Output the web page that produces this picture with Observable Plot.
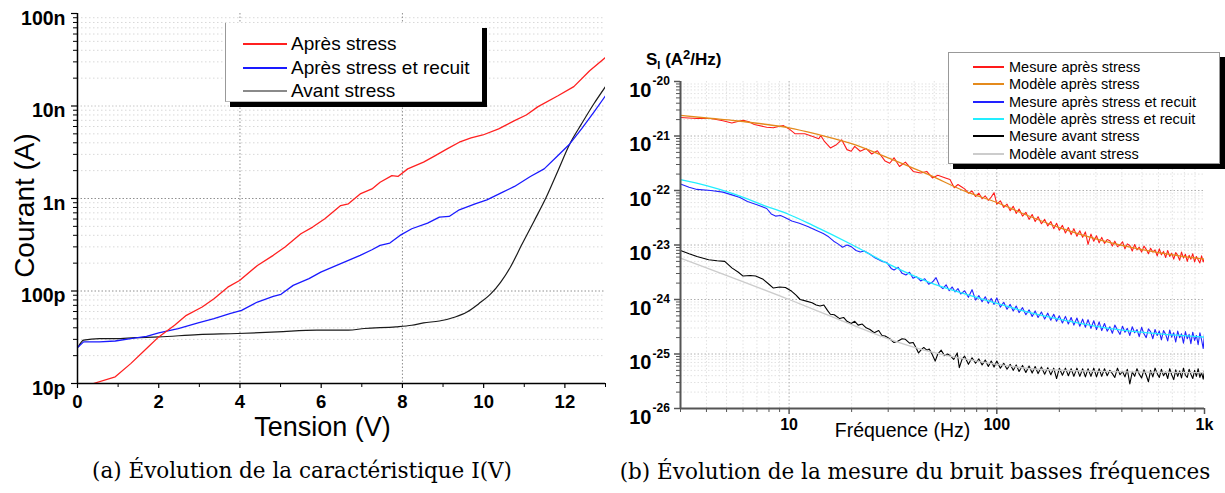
<!DOCTYPE html>
<html><head><meta charset="utf-8">
<script src="https://cdn.jsdelivr.net/npm/d3@7"></script>
<script src="https://cdn.jsdelivr.net/npm/@observablehq/plot@0.6"></script>
<style>
body{margin:0;background:#fff;width:1225px;height:493px;position:relative;overflow:hidden;font-family:"Liberation Sans",Arial,sans-serif;}
#left,#right{position:absolute;top:0;}
#left{left:0}
#right{left:610px}
.legend{position:absolute;background:#fff;box-shadow:5px 5px 0 #000;z-index:5;}
.row{position:absolute;left:0;right:0;height:20px;}
.row .sw{position:absolute;top:9px;height:2px;}
.row .lb{position:absolute;top:50%;transform:translateY(-50%);white-space:nowrap;color:#000;}
.cap{position:absolute;font-family:"DejaVu Serif","Liberation Serif",serif;font-size:21.5px;white-space:nowrap;transform:translate(-50%,-50%);color:#000;}
#slabel{position:absolute;left:646px;top:47px;font-weight:bold;font-size:17px;white-space:nowrap;z-index:4;}
#slabel sub{font-size:11px;vertical-align:-4px;}
#slabel sup{font-size:13px;vertical-align:6px;}
</style></head>
<body>
<div id="left"></div>
<div id="right"></div>
<div id="slabel">S<sub>I</sub> (A<sup>2</sup>/Hz)</div>
<div id="legL" class="legend" style="left:225px;top:23px;width:256px;height:78px;border-left:1px solid #999;border-bottom:1px solid #bbb;"></div>
<div id="legR" class="legend" style="left:948px;top:52px;width:270px;height:110px;border:1px solid #999;"></div>
<div class="cap" style="left:302px;top:470px;">(a) Évolution de la caractéristique I(V)</div>
<div class="cap" style="left:915px;top:471px;">(b) Évolution de la mesure du bruit basses fréquences</div>
<script>
// ---------- Panel (a): I(V) ----------
const ivNames = ["Après stress", "Après stress et recuit", "Avant stress"];
const voltTicks = [0, 2, 4, 6, 8, 10, 12];
const voltMinor = [1, 3, 5, 7, 9, 11, 13];
const currentTicks = [1e-11, 1e-10, 1e-9, 1e-8, 1e-7];
const currentTickLabels = ["10p", "100p", "1n", "10n", "100n"];

// [tension (V), courant (A)]
const apresStress = [[0.25,9.2e-12],[0.39,1.0e-11],[0.93,1.18e-11],[1.31,1.64e-11],[1.70,2.39e-11],[2.0,3.19e-11],[2.39,4.27e-11],[2.68,5.46e-11],[3.07,6.71e-11],[3.36,8.26e-11],[3.70,1.10e-10],[3.99,1.30e-10],[4.43,1.89e-10],[4.82,2.43e-10],[5.11,2.99e-10],[5.50,4.16e-10],[5.79,4.91e-10],[6.09,6.04e-10],[6.48,8.39e-10],[6.67,8.75e-10],[6.96,1.12e-9],[7.25,1.27e-9],[7.45,1.50e-9],[7.74,1.77e-9],[7.89,1.73e-9],[8.13,2.09e-9],[8.52,2.47e-9],[8.81,2.91e-9],[9.10,3.44e-9],[9.40,4.06e-9],[9.69,4.52e-9],[9.98,4.86e-9],[10.37,5.65e-9],[10.76,6.95e-9],[11.05,8.00e-9],[11.34,9.84e-9],[11.83,1.29e-8],[12.22,1.62e-8],[12.61,2.40e-8],[13.0,3.35e-8]];
const apresRecuit = [[0.02,2.49e-11],[0.15,2.82e-11],[0.54,2.82e-11],[0.93,2.88e-11],[1.31,3.06e-11],[1.70,3.24e-11],[2.0,3.52e-11],[2.48,3.93e-11],[2.97,4.52e-11],[3.36,5.02e-11],[3.75,5.69e-11],[4.04,6.18e-11],[4.43,7.60e-11],[4.82,8.75e-11],[5.01,9.20e-11],[5.31,1.15e-10],[5.70,1.36e-10],[5.99,1.60e-10],[6.38,1.89e-10],[6.67,2.14e-10],[6.96,2.43e-10],[7.25,2.79e-10],[7.45,3.11e-10],[7.69,3.30e-10],[7.94,3.99e-10],[8.23,4.71e-10],[8.62,5.42e-10],[8.91,6.30e-10],[9.15,6.40e-10],[9.40,7.55e-10],[9.79,8.75e-10],[10.08,9.68e-10],[10.47,1.17e-9],[10.76,1.35e-9],[11.15,1.73e-9],[11.49,2.09e-9],[11.83,2.91e-9],[12.12,3.89e-9],[12.41,5.65e-9],[12.71,8.55e-9],[13.0,1.29e-8]];
const avantStress = [[0.02,2.49e-11],[0.15,2.94e-11],[0.54,3.06e-11],[0.93,3.06e-11],[1.41,3.13e-11],[2.0,3.19e-11],[2.97,3.38e-11],[3.94,3.47e-11],[4.92,3.61e-11],[5.89,3.77e-11],[6.67,3.77e-11],[7.06,3.93e-11],[7.84,4.09e-11],[8.23,4.26e-11],[8.52,4.52e-11],[8.91,4.74e-11],[9.30,5.24e-11],[9.59,5.93e-11],[9.88,7.29e-11],[10.18,9.35e-11],[10.42,1.25e-10],[10.66,1.82e-10],[10.95,3.24e-10],[11.25,5.79e-10],[11.54,1.03e-9],[11.83,2.00e-9],[12.12,3.89e-9],[12.41,6.40e-9],[12.71,1.05e-8],[13.0,1.62e-8]];

// ---------- Panel (b): bruit basses fréquences (exposants log10 de S_I) ----------
const noiseNames = ["Mesure après stress","Modèle après stress","Mesure après stress et recuit","Modèle après stress et recuit","Mesure avant stress","Modèle avant stress"];
const freqTicks = [10, 100, 1000];
const freqTickLabels = ["10", "100", "1k"];
const freqMinor = [3,4,5,6,7,8,9,20,30,40,50,60,70,80,90,200,300,400,500,600,700,800,900];
const sExponents = [-26, -25, -24, -23, -22, -21, -20];

const redLo = [[3,-20.66],[3.6,-20.68],[4.2,-20.68],[4.8,-20.72],[5.3,-20.76],[5.6,-20.74],[6.0,-20.71],[6.4,-20.74],[6.8,-20.79],[7.8,-20.84],[8.4,-20.85],[9.0,-20.82],[9.4,-20.81],[10,-20.87],[10.7,-20.96],[11.9,-20.96],[13.0,-21.01],[13.9,-21.05],[14.2,-20.99],[14.8,-21.10],[15.8,-21.22],[16.9,-21.16],[17.9,-21.07],[19.0,-21.25],[19.9,-21.28],[20.7,-21.19],[22,-21.28],[23.5,-21.23],[25,-21.33],[26.6,-21.27],[29,-21.46],[30.5,-21.50],[32,-21.40],[34,-21.56],[36.3,-21.48],[39.6,-21.65],[43,-21.68],[46,-21.65],[49,-21.77],[52,-21.72],[56.6,-21.77],[59.5,-21.80],[62.4,-21.95],[65,-21.89],[67.5,-21.93]];
const blueLo = [[3,-21.88],[3.3,-21.94],[3.6,-21.98],[4.2,-22.00],[4.8,-22.03],[5.3,-22.08],[5.8,-22.13],[6.3,-22.20],[7.0,-22.26],[7.8,-22.33],[8.2,-22.43],[8.6,-22.47],[9.1,-22.46],[9.6,-22.50],[10.3,-22.56],[11.2,-22.60],[12.3,-22.66],[13.3,-22.72],[14.6,-22.79],[15.5,-22.85],[16.4,-22.93],[17.2,-22.98],[18.1,-23.04],[19.0,-23.00],[19.9,-23.03],[21,-23.10],[22,-23.13],[23,-23.11],[24.5,-23.17],[26,-23.24],[28,-23.30],[29.5,-23.32],[31,-23.43],[32,-23.46],[33.5,-23.41],[35,-23.52],[36.5,-23.55],[38,-23.50],[39.5,-23.61],[41,-23.58],[43,-23.66],[45,-23.62],[47,-23.72],[49,-23.68],[51,-23.60],[53,-23.75],[55,-23.80],[57,-23.73],[59,-23.84],[61,-23.77],[63,-23.86],[65,-23.80],[67,-23.90]];
const blackLo = [[3,-23.10],[3.3,-23.16],[3.6,-23.21],[4.1,-23.27],[4.5,-23.29],[4.9,-23.30],[5.3,-23.42],[5.7,-23.50],[6.0,-23.57],[6.5,-23.56],[6.9,-23.57],[7.5,-23.63],[8.0,-23.72],[8.4,-23.79],[9.0,-23.77],[9.6,-23.78],[10.3,-23.85],[10.8,-23.92],[11.3,-24.00],[12.1,-24.03],[12.9,-24.06],[13.5,-24.10],[14.1,-24.12],[14.7,-24.10],[15.3,-24.20],[15.8,-24.27],[16.5,-24.28],[17.5,-24.35],[18.3,-24.33],[19.0,-24.40],[19.9,-24.44],[20.7,-24.40],[21.5,-24.47],[22.5,-24.45],[23.5,-24.52],[24.5,-24.55],[25.7,-24.61],[27,-24.57],[28,-24.66],[29,-24.67],[30.5,-24.72],[32,-24.79],[33.5,-24.76],[35,-24.72],[36.3,-24.73],[38,-24.80],[39.6,-24.79],[41,-24.90],[42,-24.98],[43.3,-24.92],[44.5,-24.88],[46,-24.93],[47.3,-24.91],[49,-25.02],[50.5,-25.13],[52,-25.00],[54,-24.93],[56,-25.03],[58,-25.00],[60,-25.04],[62,-25.10],[64.5,-24.98],[66,-25.25],[68,-25.10]];

const freqHi = [70,73,76,79,82,85,88,91,94,97,100,104,108,112,116,120,124,128,133,138,143,148,153,158,164,170,176,182,188,194,200,207,214,221,228,235,243,251,259,267,275,284,293,302,311,320,330,340,350,360,370,381,392,403,414,425,437,449,461,473,485,498,511,524,537,550,564,578,592,606,620,635,650,665,680,695,711,727,743,759,775,792,809,826,843,860,878,896,914,932,950,968,986,1000];
const redHi = [-21.97,-22.05,-22.01,-22.11,-22.05,-22.15,-22.10,-22.18,-22.12,-22.04,-22.25,-22.19,-22.31,-22.25,-22.37,-22.29,-22.42,-22.34,-22.47,-22.40,-22.53,-22.44,-22.57,-22.48,-22.61,-22.53,-22.65,-22.57,-22.70,-22.60,-22.73,-22.64,-22.78,-22.68,-22.81,-22.70,-22.84,-22.74,-22.86,-22.76,-22.99,-22.80,-22.93,-22.83,-22.96,-22.86,
  -22.97,-22.90,-22.92,-23.02,-22.93,-23.03,-23.00,-22.94,-23.07,-22.98,-23.01,-23.11,-22.99,-23.09,-23.04,-23.13,-23.02,-23.08,-23.16,-23.06,-23.13,-23.09,-23.20,-23.07,-23.18,-23.12,-23.23,-23.10,-23.21,-23.15,-23.26,-23.14,-23.19,-23.28,-23.13,-23.24,-23.17,-23.30,-23.19,-23.26,-23.16,-23.31,-23.21,-23.27,-23.33,-23.20,-23.31,-23.24];
const blueHi = [-23.84,-23.96,-23.82,-24.01,-23.93,-24.04,-23.95,-24.07,-23.98,-24.09,-23.97,-24.14,-24.05,-24.18,-24.09,-24.21,-24.12,-24.24,-24.15,-24.28,-24.19,-24.31,-24.21,-24.33,-24.23,-24.36,-24.25,-24.38,-24.27,-24.40,-24.30,-24.43,-24.31,-24.45,-24.33,-24.47,-24.34,-24.49,-24.36,-24.51,-24.37,-24.53,-24.39,-24.55,-24.41,-24.57,
  -24.44,-24.58,-24.50,-24.62,-24.47,-24.56,-24.64,-24.49,-24.60,-24.53,-24.66,-24.50,-24.61,-24.55,-24.68,-24.51,-24.63,-24.70,-24.54,-24.59,-24.72,-24.55,-24.66,-24.58,-24.74,-24.57,-24.64,-24.76,-24.56,-24.69,-24.61,-24.78,-24.58,-24.70,-24.63,-24.80,-24.59,-24.72,-24.64,-24.81,-24.60,-24.75,-24.66,-24.83,-24.61,-24.74,-24.90,-24.63];
const blackHi = [-25.04,-25.19,-25.07,-25.17,-25.09,-25.20,-25.11,-25.23,-25.13,-25.24,-25.13,-25.26,-25.17,-25.28,-25.19,-25.30,-25.20,-25.32,-25.21,-25.34,-25.22,-25.35,-25.23,-25.36,-25.24,-25.37,-25.25,-25.38,-25.26,-25.45,-25.26,-25.39,-25.26,-25.40,-25.27,-25.41,-25.26,-25.41,-25.27,-25.42,-25.27,-25.41,-25.26,-25.42,-25.27,-25.41,
  -25.27,-25.40,-25.30,-25.36,-25.43,-25.26,-25.38,-25.32,-25.42,-25.28,-25.55,-25.33,-25.41,-25.27,-25.37,-25.44,-25.29,-25.39,-25.51,-25.30,-25.42,-25.26,-25.36,-25.43,-25.28,-25.40,-25.33,-25.45,-25.27,-25.38,-25.47,-25.29,-25.41,-25.31,-25.44,-25.26,-25.39,-25.43,-25.28,-25.37,-25.45,-25.30,-25.41,-25.27,-25.43,-25.34,-25.46,-25.29];

const modelRed = [[3,-20.62],[4,-20.67],[5.5,-20.72],[7.5,-20.78],[10,-20.85],[14,-20.98],[20,-21.14],[30,-21.40],[47,-21.71],[72,-22.03],[100,-22.22],[137,-22.44],[210,-22.71],[322,-22.92],[494,-23.08],[757,-23.20],[1000,-23.26]];
const modelBlue = [[3,-21.80],[4,-21.91],[5.5,-22.07],[7.76,-22.29],[10,-22.44],[13,-22.64],[20,-22.99],[30.5,-23.36],[47,-23.68],[72,-23.91],[100,-24.07],[137,-24.22],[210,-24.38],[322,-24.51],[494,-24.60],[757,-24.66],[1000,-24.69]];
const modelBlack = [[3,-23.24],[10,-24.00],[20,-24.46],[30.5,-24.73],[47,-24.95],[72,-25.10],[100,-25.19],[157,-25.28],[322,-25.32],[1000,-25.34]];

const ivColors = ["#ff2020", "#1a1aff", "#1a1a1a"];
const ivLegendColors = ["#ff2020", "#1a1aff", "#8a8a8a"];
const noiseColors = ["#ff1a1a", "#e48a1c", "#2222ff", "#22eeff", "#000000", "#cccccc"];

// ---------- helpers ----------
const withHi = (lo, hi) => lo.concat(freqHi.map((f, k) => [f, hi[k]])).filter(d => Number.isFinite(d[1]));
const toS = arr => arr.map(([f, e]) => ({f, s: Math.pow(10, e)}));
const minorLog = (e0, e1) => d3.range(e0, e1).flatMap(e => d3.range(2, 10).map(m => m * Math.pow(10, e)));

const FONT = '"Liberation Sans", Arial, sans-serif';

// ---------- left plot ----------
const leftMinorY = minorLog(-11, -7);
const left = Plot.plot({
  width: 610, height: 440,
  marginLeft: 77, marginRight: 5, marginTop: 13, marginBottom: 57,
  style: {fontFamily: FONT, background: "transparent", overflow: "visible", color: "#000"},
  x: {type: "linear", domain: [0, 13], label: null},
  y: {type: "log", domain: [1e-11, 1e-7], label: null},
  marks: [
    Plot.ruleY(leftMinorY, {stroke: "#d8d8d8", strokeDasharray: "1.5,2.5", strokeWidth: 1}),
    Plot.ruleY([1e-10, 1e-9], {stroke: "#909090", strokeDasharray: "1.5,2", strokeWidth: 1}),
    Plot.ruleY([1e-8], {stroke: "#c8c8c8", strokeDasharray: "1.5,2", strokeWidth: 1}),
    Plot.ruleX([4, 8], {stroke: "#909090", strokeDasharray: "1.5,2", strokeWidth: 1}),
    Plot.line(avantStress, {x: d => d[0], y: d => d[1], stroke: ivColors[2], strokeWidth: 1.2, curve: "monotone-x", clip: true}),
    Plot.line(apresRecuit, {x: d => d[0], y: d => d[1], stroke: ivColors[1], strokeWidth: 1.3, clip: true}),
    Plot.line(apresStress, {x: d => d[0], y: d => d[1], stroke: ivColors[0], strokeWidth: 1.3, clip: true}),
    Plot.axisX({ticks: voltTicks, tickSize: 5, tickFormat: () => "", label: null, stroke: "#000", strokeWidth: 1.2}),
    Plot.axisX({ticks: voltMinor, tickSize: 4, tickFormat: () => "", label: null, stroke: "#000"}),
    Plot.axisY({ticks: currentTicks, tickSize: 6, tickFormat: () => "", label: null, stroke: "#000", strokeWidth: 1.2}),
    Plot.axisY({ticks: leftMinorY, tickSize: 4, tickFormat: () => "", label: null, stroke: "#000"}),
    Plot.ruleY([1e-11], {stroke: "#000", strokeWidth: 1.5}),
    Plot.ruleX([0], {stroke: "#000", strokeWidth: 1.5}),
    Plot.text(voltTicks, {x: d => d, text: d => String(d), frameAnchor: "bottom", lineAnchor: "middle", dy: 19, fontSize: 18.5, fontWeight: "bold", fill: "#000"}),
    Plot.text(currentTicks, {y: d => d, text: (d, i) => currentTickLabels[i], frameAnchor: "left", textAnchor: "end", dx: -12, dy: 5, fontSize: 19.5, fontWeight: "bold", fill: "#000"}),
    Plot.text(["Tension (V)"], {frameAnchor: "bottom", textAnchor: "middle", lineAnchor: "middle", dx: -19, dy: 44, fontSize: 27, fill: "#000"}),
    Plot.text(["Courant (A)"], {frameAnchor: "left", textAnchor: "middle", rotate: -90, lineAnchor: "middle", dx: -52, dy: 7, fontSize: 28, fill: "#000"})
  ]
});
document.getElementById("left").appendChild(left);

// ---------- right plot ----------
const rightMinorY = minorLog(-26, -20);
const measRed = toS(withHi(redLo, redHi));
const measBlue = toS(withHi(blueLo, blueHi));
const measBlack = toS(withHi(blackLo, blackHi));
const right = Plot.plot({
  width: 615, height: 440,
  marginLeft: 70, marginRight: 21, marginTop: 81, marginBottom: 32,
  style: {fontFamily: FONT, background: "transparent", overflow: "visible", color: "#000"},
  x: {type: "log", domain: [3, 1000], label: null},
  y: {type: "log", domain: [1e-26, 1e-20], label: null},
  marks: [
    Plot.ruleY(rightMinorY, {stroke: "#e2e2e2", strokeDasharray: "1.5,2", strokeWidth: 1}),
    Plot.ruleX(freqMinor.filter(f => f > 3), {stroke: "#e2e2e2", strokeDasharray: "1.5,2", strokeWidth: 1}),
    Plot.ruleY(sExponents.slice(1, -1).map(e => Math.pow(10, e)), {stroke: "#b0b0b0", strokeDasharray: "1.5,2", strokeWidth: 1}),
    Plot.ruleX([10, 100], {stroke: "#b0b0b0", strokeDasharray: "1.5,2", strokeWidth: 1}),
    Plot.line(measRed, {x: "f", y: "s", stroke: noiseColors[0], strokeWidth: 1.1, clip: true}),
    Plot.line(toS(modelRed), {x: "f", y: "s", stroke: noiseColors[1], strokeWidth: 1.3, curve: "monotone-x", clip: true}),
    Plot.line(measBlue, {x: "f", y: "s", stroke: noiseColors[2], strokeWidth: 1.1, clip: true}),
    Plot.line(toS(modelBlue), {x: "f", y: "s", stroke: noiseColors[3], strokeWidth: 1.3, curve: "monotone-x", clip: true}),
    Plot.line(measBlack, {x: "f", y: "s", stroke: noiseColors[4], strokeWidth: 1.1, clip: true}),
    Plot.line(toS(modelBlack), {x: "f", y: "s", stroke: noiseColors[5], strokeWidth: 1.3, curve: "monotone-x", clip: true}),
    Plot.axisX({ticks: freqTicks, tickSize: 6, tickFormat: () => "", label: null, stroke: "#555", strokeWidth: 1.5}),
    Plot.axisX({ticks: freqMinor, tickSize: 4, tickFormat: () => "", label: null, stroke: "#555"}),
    Plot.axisY({ticks: sExponents.map(e => Math.pow(10, e)), tickSize: 6, tickFormat: () => "", label: null, stroke: "#555", strokeWidth: 1.5}),
    Plot.axisY({ticks: rightMinorY, tickSize: 4, tickFormat: () => "", label: null, stroke: "#555"}),
    Plot.ruleY([1e-26], {stroke: "#555", strokeWidth: 2}),
    Plot.ruleX([3], {stroke: "#555", strokeWidth: 2}),
    Plot.text(freqTicks, {x: d => d, text: (d, i) => freqTickLabels[i], frameAnchor: "bottom", lineAnchor: "middle", dy: 16, fontSize: 16, fontWeight: "bold", fill: "#000"}),
    Plot.text(sExponents, {y: e => Math.pow(10, e), text: () => "10", frameAnchor: "left", textAnchor: "end", lineAnchor: "middle", dx: -29, dy: 9, fontSize: 20, fontWeight: "bold", fill: "#000"}),
    Plot.text(sExponents, {y: e => Math.pow(10, e), text: e => String(e), frameAnchor: "left", textAnchor: "start", lineAnchor: "middle", dx: -28, dy: 0, fontSize: 12, fontWeight: "bold", fill: "#000"}),
    Plot.text(["Fréquence (Hz)"], {frameAnchor: "bottom", textAnchor: "middle", lineAnchor: "middle", dx: -40, dy: 22, fontSize: 19.5, fill: "#000"})
  ]
});
document.getElementById("right").appendChild(right);

// ---------- legends ----------
function buildLegend(id, names, colors, opts) {
  const box = document.getElementById(id);
  names.forEach((name, i) => {
    const row = document.createElement("div");
    row.className = "row";
    row.style.top = (opts.first + i * opts.step - 10) + "px";
    const sw = document.createElement("div");
    sw.className = "sw";
    sw.style.left = opts.swLeft + "px";
    sw.style.width = opts.swWidth + "px";
    sw.style.background = colors[i];
    const lb = document.createElement("div");
    lb.className = "lb";
    lb.style.left = opts.textLeft + "px";
    lb.style.fontSize = opts.fontSize + "px";
    lb.textContent = name;
    row.appendChild(sw); row.appendChild(lb);
    box.appendChild(row);
  });
}
buildLegend("legL", ivNames, ivLegendColors, {first: 21, step: 23.5, swLeft: 17, swWidth: 44, textLeft: 65, fontSize: 19});
buildLegend("legR", noiseNames, noiseColors, {first: 13.7, step: 17.4, swLeft: 24, swWidth: 31, textLeft: 60, fontSize: 14.5});
</script>
</body></html>
